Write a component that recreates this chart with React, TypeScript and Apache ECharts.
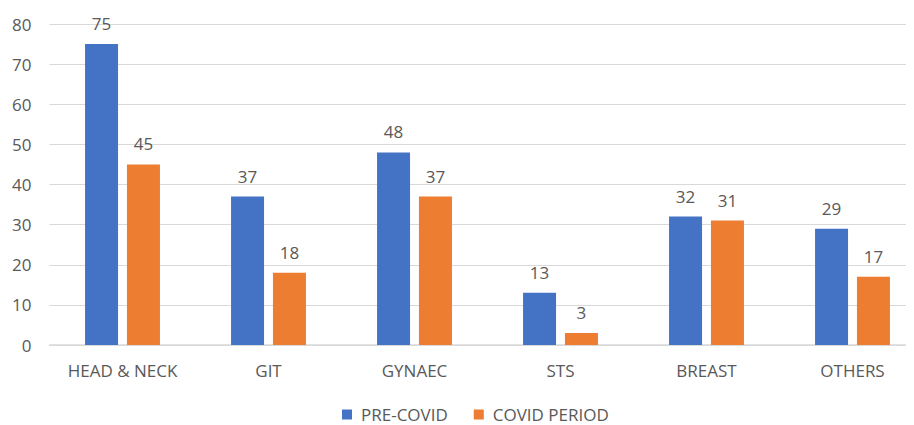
import React, { useEffect, useRef } from "react";
import * as echarts from "echarts";

const categories = ["HEAD & NECK", "GIT", "GYNAEC", "STS", "BREAST", "OTHERS"];
const preCovid = [75, 37, 48, 13, 32, 29];
const covidPeriod = [45, 18, 37, 3, 31, 17];
const seriesNames = ["PRE-COVID", "COVID PERIOD"];

const FONT = "'Open Sans', 'Liberation Sans', sans-serif";
const TXT = "#595959";

const makeLabel = () => ({
  show: true,
  position: "top",
  distance: 12,
  color: TXT,
  fontSize: 17,
  fontFamily: FONT,
});

export default function App() {
  const ref = useRef<HTMLDivElement>(null);
  useEffect(() => {
    const chart = echarts.init(ref.current!, null, { renderer: "svg" });
    chart.setOption({
      animation: false,
      textStyle: { fontFamily: FONT },
      grid: { left: 41.5, width: 876, top: 16, bottom: 80 },
      legend: {
        top: 393,
        left: 329,
        itemWidth: 10,
        itemHeight: 10,
        itemGap: 26,
        icon: "rect",
        textStyle: { color: TXT, fontSize: 17, fontFamily: FONT, padding: [0, 0, 0, 4] },
        data: seriesNames,
      },
      xAxis: {
        type: "category",
        data: categories,
        axisLine: { show: true, lineStyle: { color: "#d9d9d9", width: 1.5 } },
        axisTick: { show: false },
        axisLabel: { color: TXT, fontSize: 17, fontFamily: FONT, margin: 17, interval: 0 },
      },
      yAxis: {
        type: "value",
        min: 0,
        max: 80,
        interval: 10,
        axisLine: { show: false },
        axisTick: { show: false },
        splitLine: { lineStyle: { color: "#d9d9d9", width: 1 } },
        axisLabel: { color: TXT, fontSize: 17, fontFamily: FONT, margin: 18 },
      },
      series: [
        {
          name: seriesNames[0],
          type: "bar",
          data: preCovid,
          barWidth: 33,
          barGap: "27%",
          itemStyle: { color: "#4472c4" },
          label: makeLabel(),
        },
        {
          name: seriesNames[1],
          type: "bar",
          data: covidPeriod,
          barWidth: 33,
          itemStyle: { color: "#ed7d31" },
          label: makeLabel(),
        },
      ],
    });
    return () => chart.dispose();
  }, []);
  return (
    <div style={{ width: 906, height: 417, overflow: "hidden" }}>
      <div ref={ref} style={{ width: 930, height: 417 }} />
    </div>
  );
}
